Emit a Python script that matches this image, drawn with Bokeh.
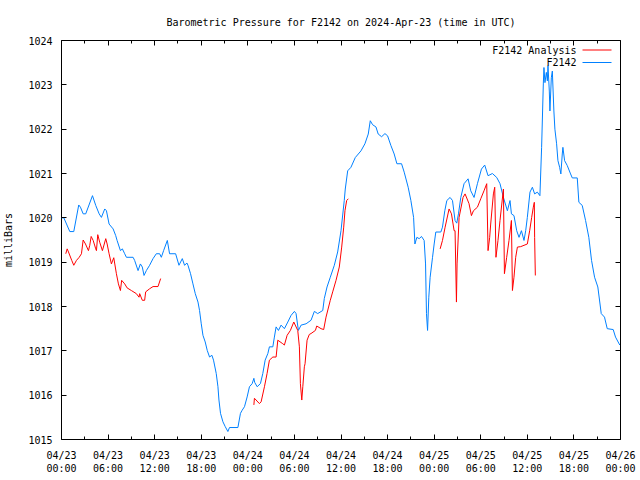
from bokeh.plotting import figure
from bokeh.models import FixedTicker, LinearAxis, Range1d, Label, Arrow, CustomJSTickFormatter
from bokeh.embed import file_html
from bokeh.resources import INLINE

# ---- data (hours since 2024-04-23 00:00 UTC, pressure in mbar) ----
x_major_ticks = [0, 6, 12, 18, 24, 30, 36, 42, 48, 54, 60, 66, 72]
x_minor_ticks = [3, 9, 15, 21, 27, 33, 39, 45, 51, 57, 63, 69]
x_tick_labels = ["04/23\n00:00", "04/23\n06:00", "04/23\n12:00", "04/23\n18:00",
                 "04/24\n00:00", "04/24\n06:00", "04/24\n12:00", "04/24\n18:00",
                 "04/25\n00:00", "04/25\n06:00", "04/25\n12:00", "04/25\n18:00",
                 "04/26\n00:00"]
y_ticks = [1015, 1016, 1017, 1018, 1019, 1020, 1021, 1022, 1023, 1024]

station_hours = [0.0, 0.3, 1.07, 1.58, 2.22, 2.44, 2.79, 3.12, 3.99, 4.41, 4.85, 5.14, 5.57, 5.79,
                 6.13, 6.65, 6.98, 7.16, 7.59, 7.84, 8.14, 8.36, 9.22, 9.42, 9.86, 10.16, 10.41,
                 10.63, 10.93, 11.35, 11.79, 12.21, 12.64, 12.86, 13.15, 13.63, 13.92, 14.70,
                 15.13, 15.56, 15.85, 16.16, 16.29, 16.62, 16.93, 17.23, 17.58, 17.78, 18.00,
                 18.22, 18.51, 18.77, 19.07, 19.37, 19.58, 19.93, 20.15, 20.28, 20.48, 20.79,
                 21.09, 21.43, 21.64, 22.72, 23.05, 23.27, 23.57, 23.91, 24.21, 24.56, 24.78,
                 24.88, 25.20, 25.62, 25.93, 26.23, 26.58, 26.78, 27.22, 27.42, 27.64, 27.94,
                 28.28, 28.71, 29.15, 29.57, 30.0, 30.21, 30.51, 30.86, 31.50, 32.14, 32.57,
                 33.0, 33.65, 33.85, 34.20, 34.62, 35.14, 35.57, 36.0, 36.42, 36.55, 36.86,
                 37.28, 37.84, 38.57, 39.08, 39.51, 39.77, 40.07, 40.50, 40.79, 41.23, 41.66,
                 42.0, 42.43, 42.85, 43.20, 43.80, 44.14, 44.65, 45.0, 45.35, 45.52, 45.77,
                 46.07, 46.37, 46.71, 46.89, 47.01, 47.15, 47.31, 47.48, 47.79, 48.0, 48.21,
                 48.86, 49.07, 49.37, 49.63, 50.05, 50.36, 50.69, 50.91, 51.13, 51.43, 51.85,
                 52.37, 52.71, 53.14, 53.57, 54.09, 54.51, 54.94, 55.50, 56.06, 56.48, 56.92,
                 57.43, 57.77, 57.95, 58.28, 58.63, 58.93, 59.24, 59.57, 59.79, 60.0, 60.34,
                 60.65, 60.94, 61.29, 61.62, 61.84, 62.06, 62.14, 62.27, 62.45, 62.58, 62.66,
                 62.83, 62.91, 63.09, 63.22, 63.42, 63.55, 63.77, 63.94, 64.16, 64.32, 64.50,
                 64.58, 64.80, 65.14, 65.57, 65.79, 66.43, 66.64, 67.07, 67.50, 67.92, 68.27,
                 68.66, 69.08, 69.52, 69.94, 70.29, 71.06, 71.36, 71.91]
station_mbar = [1020.00, 1020.00, 1019.69, 1019.69, 1020.29, 1020.24, 1020.09, 1020.09, 1020.50,
                1020.28, 1020.09, 1020.01, 1020.20, 1020.16, 1019.86, 1019.75, 1019.60, 1019.49,
                1019.26, 1019.30, 1019.19, 1019.11, 1019.11, 1019.04, 1018.81, 1018.96, 1018.89,
                1018.70, 1018.81, 1018.93, 1019.08, 1019.19, 1019.19, 1019.11, 1019.26, 1019.49,
                1019.19, 1019.19, 1018.93, 1019.08, 1018.93, 1018.98, 1018.93, 1018.74, 1018.51,
                1018.29, 1018.10, 1017.91, 1017.61, 1017.35, 1017.20, 1017.01, 1016.86, 1016.90,
                1016.79, 1016.49, 1016.19, 1015.89, 1015.59, 1015.40, 1015.29, 1015.18, 1015.27,
                1015.27, 1015.59, 1015.66, 1015.74, 1015.96, 1016.19, 1016.26, 1016.38, 1016.29,
                1016.19, 1016.26, 1016.49, 1016.79, 1016.94, 1017.09, 1017.09, 1017.31, 1017.54,
                1017.46, 1017.58, 1017.50, 1017.65, 1017.80, 1017.89, 1017.84, 1017.46, 1017.58,
                1017.61, 1017.69, 1017.89, 1017.84, 1017.91, 1018.18, 1018.44, 1018.66, 1018.93,
                1019.23, 1019.71, 1020.39, 1020.65, 1021.06, 1021.14, 1021.36, 1021.51, 1021.67,
                1021.89, 1022.19, 1022.10, 1022.05, 1021.89, 1021.83, 1021.90, 1021.85, 1021.63,
                1021.44, 1021.22, 1021.22, 1021.03, 1020.69, 1020.39, 1020.01, 1019.41, 1019.56,
                1019.53, 1019.58, 1019.49, 1018.96, 1017.84, 1017.46, 1018.21, 1018.66, 1019.11,
                1019.41, 1019.68, 1019.68, 1019.79, 1020.16, 1020.39, 1020.46, 1020.39, 1019.94,
                1019.88, 1020.09, 1020.46, 1020.77, 1020.88, 1020.61, 1020.46, 1020.77, 1021.10,
                1021.19, 1020.95, 1021.00, 1020.91, 1020.77, 1020.46, 1020.16, 1020.39, 1020.09,
                1020.05, 1019.71, 1019.56, 1019.71, 1019.49, 1019.71, 1020.01, 1020.58, 1020.69,
                1020.54, 1020.58, 1020.50, 1021.59, 1023.02, 1023.39, 1023.05, 1023.28, 1023.09,
                1023.43, 1022.86, 1022.41, 1023.16, 1023.31, 1022.41, 1022.00, 1021.67, 1021.29,
                1021.14, 1020.99, 1021.44, 1021.59, 1021.29, 1021.18, 1020.99, 1020.90, 1020.90,
                1020.35, 1020.28, 1019.94, 1019.56, 1019.04, 1018.66, 1018.44, 1017.84, 1017.76,
                1017.50, 1017.48, 1017.31, 1017.13]

analysis1_hours = [0.55, 0.73, 0.90, 1.32, 1.58, 1.93, 2.28, 2.57, 2.79, 3.09, 3.47, 3.64, 3.82,
                   4.08, 4.41, 4.50, 4.67, 4.92, 5.27, 5.70, 5.88, 6.13, 6.43, 6.73, 7.07, 7.33,
                   7.59, 7.75, 8.14, 8.45, 9.0, 9.64, 9.99, 10.07, 10.41, 10.71, 10.84, 11.35,
                   11.79, 12.43, 12.77]
analysis1_mbar = [1019.19, 1019.30, 1019.23, 1019.04, 1018.93, 1019.04, 1019.11, 1019.19,
                  1019.50, 1019.41, 1019.26, 1019.38, 1019.58, 1019.49, 1019.30, 1019.26,
                  1019.62, 1019.45, 1019.26, 1019.53, 1019.41, 1019.19, 1018.96, 1019.10,
                  1018.74, 1018.51, 1018.36, 1018.59, 1018.51, 1018.42, 1018.36, 1018.29,
                  1018.21, 1018.29, 1018.14, 1018.14, 1018.33, 1018.40, 1018.45, 1018.45,
                  1018.63]
analysis2_hours = [24.78, 24.85, 25.49, 25.71, 26.14, 26.48, 26.78, 27.22, 27.64, 27.86, 28.50,
                   28.71, 29.06, 29.48, 29.92, 30.43, 30.64, 30.77, 30.95, 31.08, 31.28, 31.37,
                   31.63, 31.92, 32.14, 32.70, 32.88, 33.43, 33.77, 34.07, 34.62, 34.93, 35.36,
                   35.78, 36.09, 36.35, 36.51, 36.73, 36.94]
analysis2_mbar = [1015.78, 1015.93, 1015.81, 1015.85, 1016.19, 1016.49, 1016.79, 1016.86,
                  1016.86, 1017.24, 1017.16, 1017.13, 1017.35, 1017.46, 1017.65, 1017.46,
                  1017.09, 1016.26, 1015.89, 1016.19, 1016.64, 1016.71, 1017.24, 1017.37,
                  1017.39, 1017.46, 1017.56, 1017.50, 1017.48, 1017.76, 1018.14, 1018.33,
                  1018.59, 1018.89, 1019.34, 1019.79, 1020.16, 1020.39, 1020.43]
analysis3_hours = [48.77, 49.07, 49.41, 49.92, 50.23, 50.57, 50.69, 50.87, 50.95, 51.21, 51.72,
                   51.98, 52.49, 52.80, 53.06, 53.57, 54.0, 54.42, 54.77, 54.94, 55.15, 55.28,
                   55.63, 55.80, 55.96, 56.22, 56.48, 56.92, 57.05, 57.34, 57.64, 57.95, 58.08,
                   58.28, 58.50, 58.72, 59.14, 60.0, 60.30, 60.56, 60.77, 60.90, 60.94, 61.03]
analysis3_mbar = [1019.30, 1019.49, 1019.79, 1020.20, 1020.09, 1019.71, 1019.71, 1018.10,
                  1018.96, 1020.01, 1020.46, 1020.54, 1020.32, 1020.05, 1020.16, 1020.24,
                  1020.43, 1020.61, 1020.77, 1019.26, 1019.56, 1019.86, 1020.54, 1020.69,
                  1019.11, 1019.49, 1019.94, 1020.65, 1018.74, 1019.11, 1019.49, 1019.94,
                  1018.36, 1018.66, 1019.11, 1019.34, 1019.35, 1019.41, 1019.71, 1020.01,
                  1020.24, 1020.35, 1019.56, 1018.70]

series_names = ["F2142 Analysis", "F2142"]
series_colors = ["#ff0000", "#0080ff"]

FONT = "DejaVu Sans Mono"
FS = "10px"

p = figure(width=640, height=480, output_backend="svg", toolbar_location=None,
           x_range=Range1d(0, 72), y_range=Range1d(1015, 1024),
           min_border_left=60, min_border_right=20, min_border_top=40, min_border_bottom=41,
           x_axis_location=None, y_axis_location=None)
p.title.text = "Barometric Pressure for F2142 on 2024-Apr-23 (time in UTC)"
p.title.align = "center"
p.title.text_font = FONT
p.title.text_font_size = FS
p.title.text_font_style = "normal"
p.title.text_color = "black"
p.title.offset = 0
p.title.standoff = 26

p.xgrid.visible = False
p.ygrid.visible = False
p.outline_line_color = "black"
p.outline_line_width = 1
p.background_fill_color = "white"
p.border_fill_color = "white"

xt = FixedTicker(ticks=x_major_ticks, minor_ticks=x_minor_ticks)
yt = FixedTicker(ticks=y_ticks, minor_ticks=[])
blank = CustomJSTickFormatter(code="return ''")

def style_axis(ax, labels=True):
    ax.axis_line_color = None
    ax.major_tick_in = 5
    ax.major_tick_out = 0
    ax.minor_tick_in = 3
    ax.minor_tick_out = 0
    ax.major_tick_line_color = "black"
    ax.minor_tick_line_color = "black"
    ax.major_label_text_font = FONT
    ax.major_label_text_font_size = FS
    ax.major_label_text_color = "black"
    if not labels:
        ax.formatter = blank
        ax.major_label_standoff = 0

xb = LinearAxis(ticker=xt)
style_axis(xb)
xb.major_label_overrides = {h: t for h, t in zip(x_major_ticks, x_tick_labels)}
xb.major_label_standoff = 10
p.add_layout(xb, "below")

xa = LinearAxis(ticker=xt)
style_axis(xa, labels=False)
p.add_layout(xa, "above")

yl = LinearAxis(ticker=yt, axis_label="milliBars")
style_axis(yl)
yl.major_label_standoff = 9
yl.axis_label_text_font = FONT
yl.axis_label_text_font_size = FS
yl.axis_label_text_font_style = "normal"
yl.axis_label_text_color = "black"
yl.axis_label_standoff = 11
p.add_layout(yl, "left")

yr = LinearAxis(ticker=yt)
style_axis(yr, labels=False)
p.add_layout(yr, "right")

p.line(station_hours, station_mbar, line_color=series_colors[1], line_width=1)
p.multi_line([analysis1_hours, analysis2_hours, analysis3_hours],
             [analysis1_mbar, analysis2_mbar, analysis3_mbar],
             line_color=series_colors[0], line_width=1)

# gnuplot-style key: text right-aligned, sample line to the right
for i, (name, col) in enumerate(zip(series_names, series_colors)):
    yy = 389.5 - 12.5 * i
    p.add_layout(Label(x=515, y=yy, x_units="screen", y_units="screen", text=name,
                       text_align="right", text_baseline="middle",
                       text_font=FONT, text_font_size=FS, text_color="black"))
    p.add_layout(Arrow(end=None, x_start=521, y_start=yy, x_end=550, y_end=yy,
                       start_units="screen", end_units="screen",
                       line_color=col, line_width=1))

open("out.html", "w").write(file_html(p, INLINE))
